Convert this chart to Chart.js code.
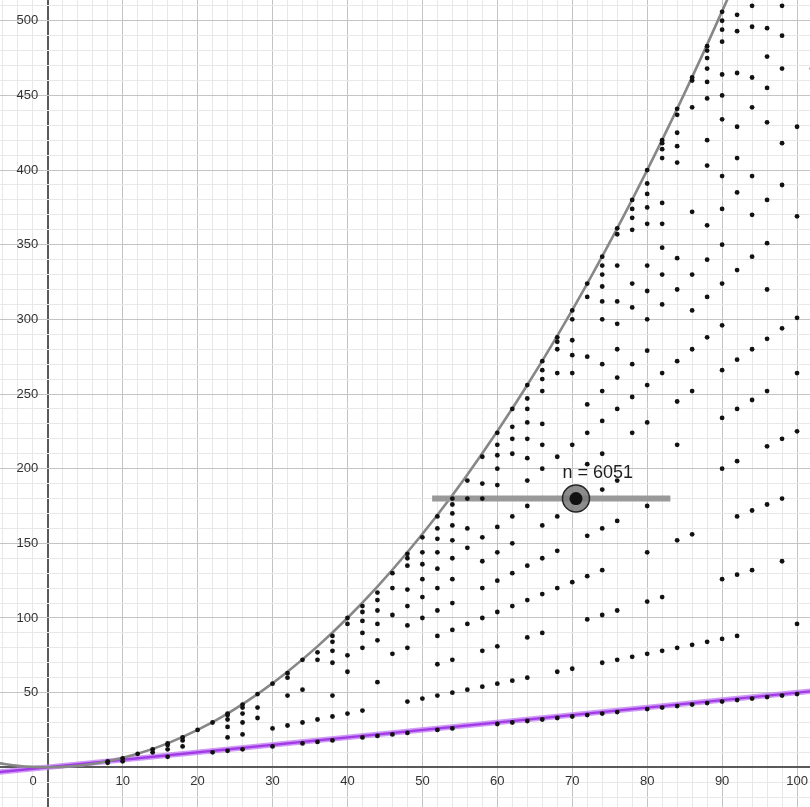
<!DOCTYPE html>
<html>
<head>
<meta charset="utf-8">
<script src="https://cdn.jsdelivr.net/npm/chart.js@4.4.1/dist/chart.umd.min.js"></script>
<style>
  html, body { margin: 0; padding: 0; background: #fff; }
  #wrap { width: 810px; height: 807px; }
</style>
</head>
<body>
<div id="wrap"><canvas id="plot"></canvas></div>
<script>
// dot columns: x position and the y values read in each column
const colX = [8, 10, 12, 14, 16, 18, 20, 22, 24, 26, 28, 30, 32, 34, 36, 38, 40, 42, 44, 46, 48, 50,
              52, 54, 56, 58, 60, 62, 64, 66, 68, 70, 72, 74, 76, 78, 80, 82, 84, 86, 88, 90,
              92, 94, 96, 98, 100, 102];
const colY = [
  [4, 3], [6, 4], [9], [12, 10], [16, 15, 12, 7], [20, 18, 14], [25], [30, 10],
  [36, 35, 32, 27, 20, 11], [42, 40, 36, 30, 22, 12], [49, 40, 33], [56, 26, 14],
  [63, 60, 48, 28], [72, 52, 30, 16], [77, 72, 32, 17], [88, 84, 78, 70, 48, 34, 18],
  [100, 96, 75, 64, 36], [108, 104, 98, 90, 80, 38, 20], [117, 112, 105, 96, 85, 57, 21],
  [130, 120, 102, 76, 22], [143, 140, 135, 119, 108, 95, 80, 44, 23],
  [154, 144, 136, 126, 114, 100, 46],
  [168, 160, 153, 144, 133, 120, 105, 88, 69, 48, 25],
  [180, 176, 170, 162, 152, 140, 126, 110, 92, 72, 50, 26],
  [192, 180, 160, 147, 96, 52],
  [208, 190, 180, 154, 138, 120, 100, 78, 54],
  [224, 216, 209, 200, 189, 161, 144, 125, 104, 81, 56, 29],
  [240, 228, 220, 210, 168, 150, 130, 108, 58, 30],
  [256, 247, 240, 231, 220, 207, 192, 175, 135, 112, 87, 60, 31],
  [272, 266, 260, 252, 230, 216, 200, 162, 140, 116, 90, 32],
  [288, 285, 280, 264, 208, 168, 145, 120, 64, 33],
  [306, 300, 286, 276, 264, 216, 124, 66, 34],
  [324, 315, 275, 243, 224, 203, 155, 128, 99, 35],
  [342, 336, 330, 322, 312, 300, 270, 252, 232, 210, 186, 160, 132, 102, 70, 36],
  [361, 357, 336, 312, 297, 280, 261, 240, 192, 165, 105, 72, 37],
  [380, 374, 368, 360, 324, 308, 270, 248, 224, 74],
  [400, 391, 384, 375, 364, 336, 319, 300, 279, 256, 231, 175, 144, 111, 76, 39],
  [420, 418, 414, 408, 378, 364, 348, 330, 310, 264, 114, 78, 40],
  [441, 437, 425, 416, 405, 341, 320, 272, 245, 216, 152, 80, 41],
  [462, 460, 442, 372, 330, 306, 280, 252, 156, 82, 42],
  [483, 480, 475, 468, 459, 448, 420, 403, 363, 340, 315, 288, 84, 43],
  [506, 500, 494, 486, 464, 450, 434, 396, 374, 350, 324, 296, 266, 234, 200, 126, 86, 44],
  [504, 493, 465, 429, 408, 385, 333, 273, 240, 205, 168, 129, 88, 45],
  [510, 496, 462, 442, 396, 370, 342, 280, 246, 172, 132, 46],
  [495, 476, 455, 432, 380, 351, 320, 287, 252, 215, 176, 47],
  [510, 490, 468, 418, 390, 294, 220, 180, 138, 48],
  [429, 369, 301, 264, 225, 96, 49],
  [468, 410, 308, 270, 230, 188, 98, 50]
];

// gray curve, read along its path
const curveX = [-6.4, -4, -2, 0, 2, 4, 8, 12, 16, 20, 24, 28, 32, 36, 40, 44, 48, 52, 56, 60, 64, 68, 72, 76, 80, 84, 88, 92];
const curveY = [2.6, 1, 0.25, 0, 0.25, 1, 4, 9, 16, 25, 36, 49, 64, 81, 100, 121, 144, 169, 196, 225, 256, 289, 324, 361, 400, 441, 484, 529];

// purple line end points
const lineX = [-6.4, 101.8];
const lineY = [-3.2, 50.9];

// slider
const sliderX = [51.3, 83.1];
const sliderY = [180, 180];
const knob = { x: 70.5, y: 180 };
const sliderLabel = 'n = 6051';

const xTickLabels = [0, 10, 20, 30, 40, 50, 60, 70, 80, 90, 100];
const yTickLabels = [50, 100, 150, 200, 250, 300, 350, 400, 450, 500];

const dots = [];
colX.forEach((x, i) => colY[i].forEach(y => dots.push({ x: x, y: y })));
const zip = (xs, ys) => xs.map((x, i) => ({ x: x, y: ys[i] }));

const labelsPlugin = {
  id: 'labelsPlugin',
  beforeDatasetsDraw(chart) {
    const { ctx, scales: { x, y } } = chart;
    const x0 = x.getPixelForValue(0);
    const y0 = y.getPixelForValue(0);
    ctx.save();
    ctx.font = '13px "Liberation Sans", Arial, sans-serif';
    ctx.fillStyle = '#333';
    ctx.textBaseline = 'middle';
    ctx.textAlign = 'center';
    xTickLabels.forEach(v => {
      const px = v === 0 ? x0 - 14.5 : x.getPixelForValue(v);
      ctx.fillText(String(v), px, y0 + 14.5);
    });
    ctx.textAlign = 'right';
    yTickLabels.forEach(v => ctx.fillText(String(v), x0 - 9.5, y.getPixelForValue(v)));
    ctx.restore();
  },
  afterDatasetsDraw(chart) {
    const { ctx, scales: { x, y } } = chart;
    ctx.save();
    ctx.font = '18px "Liberation Sans", Arial, sans-serif';
    ctx.fillStyle = '#1e1e1e';
    ctx.textAlign = 'left';
    ctx.textBaseline = 'middle';
    ctx.fillText(sliderLabel, x.getPixelForValue(68.7), y.getPixelForValue(197));
    ctx.restore();
  }
};

function gridColor(ctx, major) {
  const v = ctx.tick.value;
  if (v === 0) return '#5a5a5a';
  return v % major === 0 ? '#c4c4c4' : '#e8e8e8';
}
function gridWidth(ctx) {
  return ctx.tick.value === 0 ? 2 : 1;
}

new Chart(document.getElementById('plot'), {
  type: 'scatter',
  data: {
    datasets: [
      { data: [knob], pointRadius: 6.5, pointBackgroundColor: '#111', pointBorderWidth: 0, order: 0 },
      { data: [knob], pointRadius: 13.5, pointBackgroundColor: 'rgba(120,120,120,0.85)',
        pointBorderColor: '#222', pointBorderWidth: 1.5, order: 1 },
      { data: dots, pointRadius: 2.4, pointBackgroundColor: '#111', pointBorderWidth: 0, order: 2 },
      { data: zip(sliderX, sliderY), showLine: true, borderColor: '#999', borderWidth: 6,
        pointRadius: 0, order: 3 },
      { data: zip(curveX, curveY), showLine: true, borderColor: '#878787', borderWidth: 2.6,
        cubicInterpolationMode: 'monotone', pointRadius: 0, order: 4 },
      { data: zip(lineX, lineY), showLine: true, borderColor: '#a23be6', borderWidth: 2.4,
        pointRadius: 0, order: 5 },
      { data: zip(lineX, lineY), showLine: true, borderColor: 'rgba(196,130,245,0.8)', borderWidth: 5.5,
        pointRadius: 0, order: 6 }
    ]
  },
  options: {
    responsive: true,
    maintainAspectRatio: false,
    animation: false,
    layout: { padding: 0, autoPadding: false },
    plugins: { legend: { display: false }, tooltip: { enabled: false } },
    scales: {
      x: {
        type: 'linear', min: -6.37, max: 101.73,
        afterBuildTicks: s => {
          const t = [];
          for (let v = -6; v <= 100; v += 2) t.push({ value: v });
          s.ticks = t;
        },
        ticks: { display: false },
        border: { display: false },
        grid: { drawTicks: false, color: c => gridColor(c, 10), lineWidth: gridWidth }
      },
      y: {
        type: 'linear', min: -26.6, max: 513.9,
        afterBuildTicks: s => {
          const t = [];
          for (let v = -20; v <= 510; v += 10) t.push({ value: v });
          s.ticks = t;
        },
        ticks: { display: false },
        border: { display: false },
        grid: { drawTicks: false, color: c => gridColor(c, 50), lineWidth: gridWidth }
      }
    }
  },
  plugins: [labelsPlugin]
});
</script>
</body>
</html>
